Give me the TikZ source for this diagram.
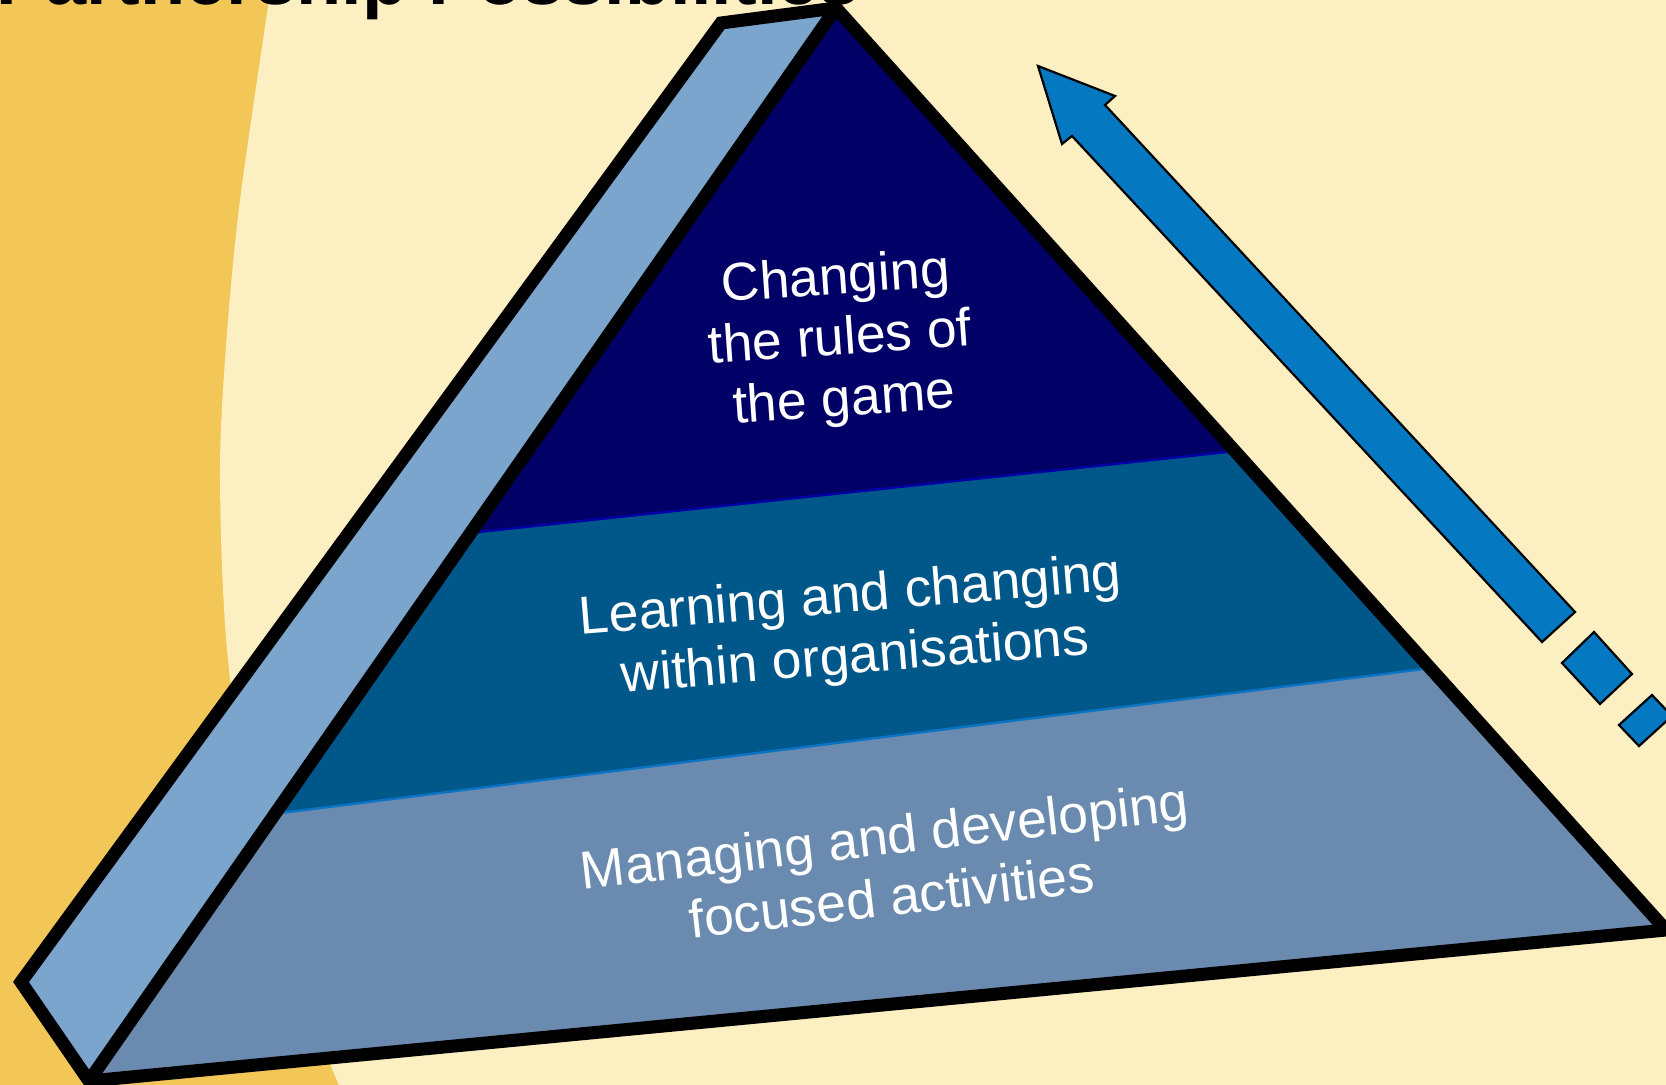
\documentclass[tikz,border=0pt]{standalone}
\usepackage{fontspec}
\setmainfont{Liberation Sans}
\definecolor{cream}{HTML}{FCEFC2}
\definecolor{gold}{HTML}{F2C657}
\definecolor{sideblue}{HTML}{7BA5CD}
\definecolor{navy}{HTML}{000066}
\definecolor{midblue}{HTML}{00578A}
\definecolor{lowblue}{HTML}{6A8BAF}
\definecolor{arrowblue}{HTML}{0479C1}
\definecolor{lineA}{HTML}{0000A6}
\definecolor{lineB}{HTML}{0A74C4}
\begin{document}
\begin{tikzpicture}[x=0.5pt,y=-0.5pt,
  bandtext/.style={text=white, align=center, font=\fontsize{26.7}{30.5}\selectfont, inner sep=0pt},
  outline/.style={line width=6.5pt, line join=miter, draw=black},
  arrowpart/.style={fill=arrowblue, draw=black, line width=1.1pt, line join=miter},
  bandline/.style={line width=1.2pt}]
\useasboundingbox (0,0) rectangle (1666,1085);
\clip (0,0) rectangle (1666,1085);
% background
\fill[gold] (0,0) rectangle (1666,1085);
\fill[cream] plot[smooth] coordinates {(272,-20) (240,200) (226,346) (220,477) (228,660) (262,880) (345,1100)}
  -- (1680,1100) -- (1680,-20) -- cycle;
% pyramid corners
\coordinate (A) at (836,8);
\coordinate (B) at (721,23);
\coordinate (C) at (21,982);
\coordinate (D) at (89,1081);
\coordinate (E) at (1666,930);
% side face
\fill[sideblue] (B) -- (A) -- (D) -- (C) -- cycle;
% front face bands
\begin{scope}
  \clip (A) -- (E) -- (D) -- cycle;
  \fill[lowblue] (0,0) rectangle (1666,1085);
  \coordinate (L2a) at (200,823.2);
  \coordinate (L2b) at (1500,659.4);
  \coordinate (L1a) at (400,540.4);
  \coordinate (L1b) at (1300,444.2);
  \fill[midblue] (L2a) -- (L2b) -- (1500,0) -- (200,0) -- cycle;
  \fill[navy] (L1a) -- (L1b) -- (1300,0) -- (400,0) -- cycle;
  \draw[bandline, lineB] (L2a) -- (L2b);
  \draw[bandline, lineA] (L1a) -- (L1b);
\end{scope}
% outlines
\draw[outline] (C) -- (B) -- (A) -- (E) -- (D) -- cycle;
\draw[outline] (A) -- (D);
% texts
\node[bandtext, rotate=4] (toptext) at (840,341) {Changing\\the rules of\\the game};
\node[bandtext, rotate=4.7] (midtext) at (853,629) {Learning and changing\\within organisations};
\node[bandtext, rotate=6.6] (lowtext) at (888,866) {Managing and developing\\focused activities};
% arrow
\draw[arrowpart] (1038,66) -- (1115,96) -- (1105,105) -- (1575,612) -- (1542,642) -- (1072,136) -- (1062,144) -- cycle;
\draw[arrowpart] (1594,632) -- (1632,674) -- (1600,704) -- (1562,663) -- cycle;
\draw[arrowpart] (1652,695) -- (1672,716) -- (1639,746) -- (1619,725) -- cycle;
% title
\node[anchor=base west, inner sep=0pt, font=\fontsize{37}{40}\selectfont\bfseries] (title) at (-4,5) {Partnership Possibilities};
\end{tikzpicture}
\end{document}
